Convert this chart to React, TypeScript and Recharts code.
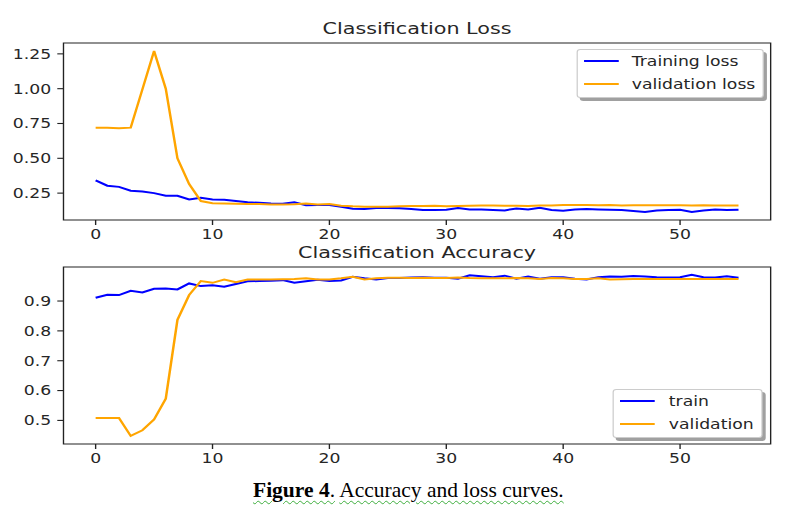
import React from "react"
import { LineChart, Line, XAxis, YAxis, Legend, ReferenceArea } from "recharts"

// epoch index shared by both panels
const epochs = Array.from({ length: 56 }, (_, i) => i)

const trainLoss = [
    0.341, 0.303, 0.295, 0.267, 0.262, 0.25, 0.232, 0.231, 0.204, 0.216,
    0.205, 0.203, 0.194, 0.184, 0.18, 0.175, 0.174, 0.184, 0.163, 0.164,
    0.165, 0.152, 0.138, 0.136, 0.144, 0.143, 0.141, 0.136, 0.129, 0.129,
    0.131, 0.143, 0.133, 0.132, 0.129, 0.126, 0.14, 0.133, 0.145, 0.129,
    0.124, 0.133, 0.136, 0.133, 0.131, 0.129, 0.122, 0.114, 0.126, 0.128,
    0.131, 0.114, 0.126, 0.133, 0.128, 0.131,
]
const valLoss = [
    0.72, 0.72, 0.715, 0.72, 0.995, 1.27, 1.0, 0.5, 0.315, 0.193,
    0.178, 0.176, 0.174, 0.172, 0.171, 0.168, 0.168, 0.17, 0.175, 0.169,
    0.171, 0.16, 0.155, 0.152, 0.153, 0.152, 0.155, 0.157, 0.157, 0.16,
    0.155, 0.157, 0.16, 0.162, 0.162, 0.16, 0.16, 0.158, 0.162, 0.162,
    0.164, 0.164, 0.164, 0.163, 0.164, 0.162, 0.163, 0.163, 0.163, 0.163,
    0.163, 0.162, 0.163, 0.162, 0.162, 0.162,
]
const trainAcc = [
    0.911, 0.921, 0.92, 0.934, 0.929, 0.941, 0.942, 0.939, 0.959, 0.95,
    0.953, 0.948, 0.957, 0.966, 0.967, 0.968, 0.97, 0.961, 0.966, 0.971,
    0.967, 0.969, 0.981, 0.976, 0.972, 0.977, 0.977, 0.979, 0.98, 0.978,
    0.978, 0.975, 0.986, 0.983, 0.98, 0.985, 0.975, 0.982, 0.975, 0.98,
    0.98, 0.975, 0.972, 0.98, 0.982, 0.981, 0.984, 0.982, 0.98, 0.979,
    0.98, 0.988, 0.98, 0.979, 0.983, 0.978,
]
const valAcc = [
    0.508, 0.508, 0.508, 0.448, 0.467, 0.503, 0.573, 0.837, 0.92, 0.967,
    0.961, 0.972, 0.963, 0.972, 0.972, 0.972, 0.973, 0.974, 0.976, 0.972,
    0.972, 0.976, 0.981, 0.972, 0.976, 0.978, 0.978, 0.977, 0.978, 0.977,
    0.977, 0.979, 0.977, 0.976, 0.976, 0.976, 0.977, 0.976, 0.974, 0.977,
    0.976, 0.974, 0.974, 0.976, 0.972, 0.973, 0.974, 0.974, 0.974, 0.974,
    0.974, 0.974, 0.974, 0.974, 0.974, 0.974,
]

const xTicks = [0, 10, 20, 30, 40, 50]
const lossTicks = [0.25, 0.5, 0.75, 1.0, 1.25]
const accTicks = [0.5, 0.6, 0.7, 0.8, 0.9]

const lossData = epochs.map((e, i) => ({ epoch: e, train: trainLoss[i], val: valLoss[i] }))
const accData = epochs.map((e, i) => ({ epoch: e, train: trainAcc[i], val: valAcc[i] }))

const BLUE = "#0000ff"
const ORANGE = "#ffa500"
const INK = "#262626"
const FONT = "'DejaVu Sans', sans-serif"

// panels are laid out narrow and then stretched sideways
const STRETCH = 1.24
const W = 642
const PLOT_LEFT = 51.2
const PLOT_RIGHT = 621.5
const X_DOMAIN: [number, number] = [-2.75, 57.75]

const tickStyle = { fontFamily: FONT, fontSize: 13.9, fill: INK }

function LegendBox({ payload, width }: { payload?: any[]; width: number }) {
    return (
        <div
            style={{
                width,
                height: 49,
                boxSizing: "border-box",
                border: "1px solid #cccccc",
                borderRadius: 3,
                background: "#fff",
                boxShadow: "2.5px 3px 0 #a0a0a0",
                padding: "0 5px",
                fontFamily: FONT,
                fontSize: 13.9,
                color: INK,
            }}
        >
            {(payload || []).map((p) => (
                <div key={p.value} style={{ display: "flex", alignItems: "center", height: 22.5 }}>
                    <span style={{ display: "inline-block", width: 28, height: 2, background: p.color, marginRight: 11 }} />
                    <span style={{ lineHeight: "16px" }}>{p.value}</span>
                </div>
            ))}
        </div>
    )
}

function Panel({
    data, domain, ticks, digits, names, legendLeft, legendTop, legendWidth,
}: {
    data: { epoch: number; train: number; val: number }[]
    domain: [number, number]
    ticks: number[]
    digits: number
    names: [string, string]
    legendLeft: number
    legendTop: number
    legendWidth: number
}) {
    return (
        <LineChart width={W} height={250} data={data} margin={{ top: 43, right: W - PLOT_RIGHT, bottom: 0, left: 0 }}>
            <XAxis
                dataKey="epoch" type="number" domain={X_DOMAIN} ticks={xTicks} allowDataOverflow
                height={30} axisLine={false} tickSize={5} tickMargin={4}
                tickLine={{ stroke: "#222", strokeWidth: 1.1 }} tick={tickStyle} interval={0}
            />
            <YAxis
                type="number" domain={domain} ticks={ticks} allowDataOverflow width={PLOT_LEFT}
                axisLine={false} tickSize={5} tickMargin={5}
                tickLine={{ stroke: "#222", strokeWidth: 1.1 }} tick={tickStyle} interval={0}
                tickFormatter={(v: number) => v.toFixed(digits)}
            />
            <ReferenceArea
                x1={X_DOMAIN[0]} x2={X_DOMAIN[1]} y1={domain[0]} y2={domain[1]}
                fill="none" stroke="#222" strokeWidth={1.1} fillOpacity={0}
            />
            <Line dataKey="train" name={names[0]} stroke={BLUE} strokeWidth={2} dot={false} isAnimationActive={false} />
            <Line dataKey="val" name={names[1]} stroke={ORANGE} strokeWidth={2} dot={false} isAnimationActive={false} />
            <Legend
                layout="vertical" align="center" verticalAlign="middle"
                wrapperStyle={{ left: legendLeft, top: legendTop, width: legendWidth, height: 49 }}
                content={(props: any) => <LegendBox payload={props.payload} width={legendWidth} />}
            />
        </LineChart>
    )
}

const titleStyle: React.CSSProperties = {
    position: "absolute",
    left: PLOT_LEFT,
    width: PLOT_RIGHT - PLOT_LEFT,
    textAlign: "center",
    fontFamily: FONT,
    fontSize: 16.7,
    lineHeight: "17px",
    color: INK,
    whiteSpace: "nowrap",
}

const squiggle: React.CSSProperties = {
    textDecoration: "underline wavy #3fae3f",
    textDecorationThickness: "1px",
    textUnderlineOffset: "3px",
}

export default function App() {
    return (
        <div style={{ position: "absolute", left: 0, top: 0, width: 796, height: 531, background: "#fff", overflow: "hidden" }}>
            <div style={{ position: "absolute", left: 0, top: 0, width: W, height: 470, transform: `scaleX(${STRETCH})`, transformOrigin: "0 0" }}>
                <div style={{ position: "absolute", left: 0, top: 0 }}>
                    <Panel
                        data={lossData} domain={[0.057, 1.328]} ticks={lossTicks} digits={2}
                        names={["Training loss", "validation loss"]}
                        legendLeft={464.5} legendTop={49} legendWidth={151}
                    />
                </div>
                <div style={{ position: "absolute", left: 0, top: 224 }}>
                    <Panel
                        data={accData} domain={[0.421, 1.014]} ticks={accTicks} digits={1}
                        names={["train", "validation"]}
                        legendLeft={494.4} legendTop={165} legendWidth={121}
                    />
                </div>
                <div style={{ ...titleStyle, top: 20 }}>Classification Loss</div>
                <div style={{ ...titleStyle, top: 244 }}>Classification Accuracy</div>
            </div>
            <div
                style={{
                    position: "absolute", left: 253, top: 479, whiteSpace: "nowrap",
                    fontFamily: "'Liberation Serif', 'Times New Roman', serif", fontSize: 21.5, lineHeight: "22px", color: "#000",
                }}
            >
                <span style={{ ...squiggle, fontWeight: "bold" }}>Figure 4</span>
                <span style={squiggle}>.</span> <span style={squiggle}>Accuracy and loss curves.</span>
            </div>
        </div>
    )
}
